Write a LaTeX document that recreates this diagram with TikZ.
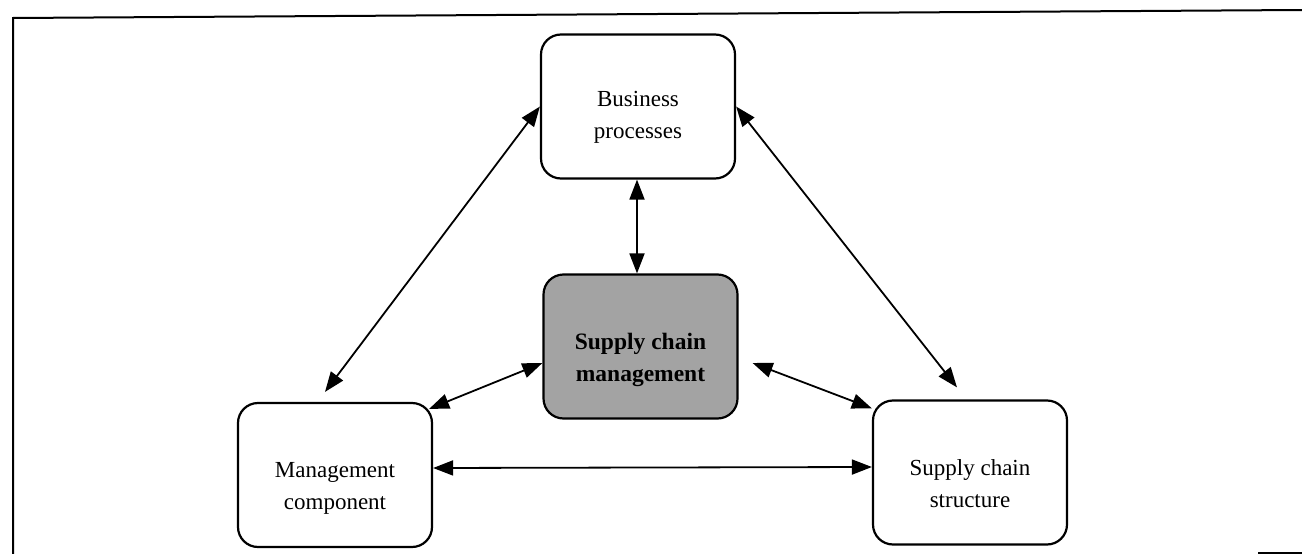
\documentclass[tikz,border=0pt]{standalone}
\usepackage{fontspec}
\setmainfont{Liberation Serif}
\usetikzlibrary{arrows.meta}
\newcommand{\lowerby}[1]{\rule{0pt}{#1}}
\begin{document}
\begin{tikzpicture}[x=1pt,y=-1pt,
  box/.style={draw, line width=2.2pt, rounded corners=20pt, minimum width=194pt, minimum height=144pt, align=center, font=\fontsize{23}{32}\selectfont, inner sep=0pt},
  core/.style={box, fill=black!36, font=\fontsize{23.5}{32}\selectfont\bfseries},
  link/.style={line width=1.8pt, {Triangle[length=20pt,width=15pt]}-{Triangle[length=20pt,width=15pt]}},
  frame/.style={line width=2pt}]
\useasboundingbox (0,0) rectangle (1302,554);
\draw[frame] (13,554) -- (13,18) -- (1302,10);
\draw[frame] (1258,553) -- (1302,553);
\node[box] (bp) at (638,106.5) {\lowerby{36pt}Business\\processes};
\node[core] (scm) at (640.5,346.5) {\lowerby{44pt}Supply chain\\management};
\node[box] (mc) at (335,475) {\lowerby{42pt}Management\\component};
\node[box] (scs) at (970,472.5) {\lowerby{38pt}Supply chain\\structure};
\draw[link] (bp.west) -- ([xshift=-10pt,yshift=10pt]mc.north);
\draw[link] (bp.east) -- ([xshift=-13pt,yshift=12pt]scs.north);
\draw[link] ([xshift=-1pt]bp.south) -- ([xshift=-3.5pt]scm.north);
\draw[link] ([yshift=-16.5pt]scm.west) -- ([xshift=-4pt,yshift=-7pt]mc.north east);
\draw[link] ([xshift=14pt,yshift=-16.5pt]scm.east) -- ([yshift=-9pt]scs.north west);
\draw[link] ([yshift=7pt]mc.east) -- ([yshift=5.5pt]scs.west);
\end{tikzpicture}
\end{document}
